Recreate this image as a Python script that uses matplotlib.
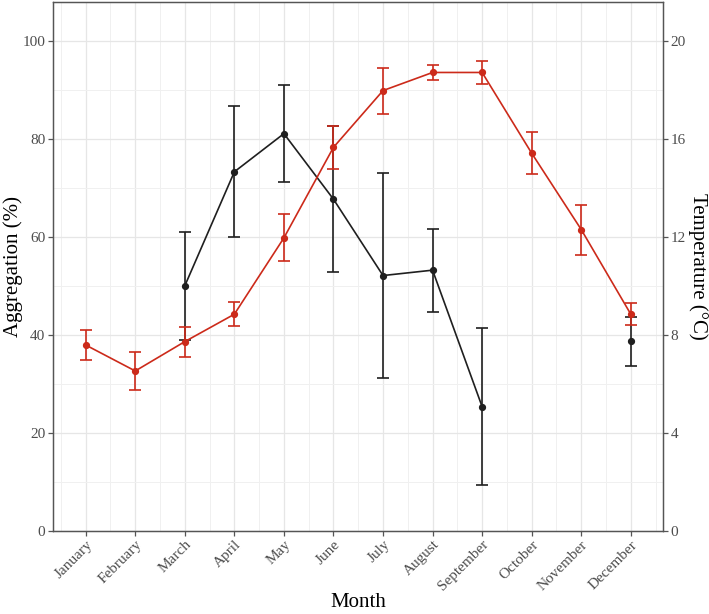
import numpy as np
import matplotlib
matplotlib.use("Agg")
import matplotlib.pyplot as plt

plt.rcParams['font.family'] = ['Liberation Serif', 'DejaVu Serif']

months = ["January", "February", "March", "April", "May", "June", "July",
          "August", "September", "October", "November", "December"]
aggregation = [np.nan, np.nan, 50.0, 73.3, 81.1, 67.7, 52.1, 53.2, 25.3, np.nan, np.nan, 38.7]
aggregation_se = [np.nan, np.nan, 11.0, 13.4, 9.9, 14.9, 21.0, 8.5, 16.0, np.nan, np.nan, 5.0]
temperature = [7.58, 6.52, 7.72, 8.84, 11.96, 15.66, 17.98, 18.72, 18.72, 15.42, 12.30, 8.84]
temperature_se = [0.61, 0.77, 0.61, 0.49, 0.96, 0.87, 0.94, 0.32, 0.46, 0.85, 1.02, 0.46]

x = np.arange(1, len(months) + 1)
red = '#cc2a1a'
blk = '#1f1f1f'

W, H = 709, 614
L, R, B, T = 53, 663, 530.5, 2
fig = plt.figure(figsize=(W / 100, H / 100), dpi=100)
ax = fig.add_axes([L / W, (H - B) / H, (R - L) / W, (B - T) / H])
ax.set_xlim(0.34, 12.65)
ax.set_ylim(0, 108)

ax.errorbar(x, aggregation, yerr=aggregation_se, color=blk, lw=1.2, marker='o', ms=4.2,
            capsize=4.3, capthick=1.2, elinewidth=1.2, zorder=3)

ax2 = ax.twinx()
ax2.set_ylim(0, 108 / 5)
ax2.errorbar(x, temperature, yerr=temperature_se, color=red, lw=1.2, marker='o', ms=4.2,
             capsize=4.3, capthick=1.2, elinewidth=1.2, zorder=3)

ax.set_yticks(np.arange(0, 101, 20))
ax.set_yticks(np.arange(10, 101, 20), minor=True)
ax.set_xticks(x)
ax.set_xticks(np.concatenate([[0.5], x + 0.5]), minor=True)
ax.set_xticklabels(months, rotation=45, ha='right', va='top', rotation_mode='anchor')
ax2.set_yticks(np.arange(0, 21, 4))

ax.grid(True, which='major', color='#e6e6e6', lw=0.9, zorder=0)
ax.grid(True, which='minor', color='#f0f0f0', lw=0.7, zorder=0)
ax.set_axisbelow(True)

for a in (ax, ax2):
    for s in a.spines.values():
        s.set_color('#555555')
        s.set_linewidth(0.9)
    a.tick_params(axis='both', which='major', direction='out', length=3.5, width=0.9,
                  color='#555555', labelcolor='#4d4d4d', labelsize=11, pad=2)
    a.tick_params(axis='both', which='minor', length=0)

ax.set_xlabel('Month', fontsize=15, color='black', va='top')
ax.xaxis.set_label_coords(0.5, -(593 - B) / (B - T))
ax.set_ylabel('Aggregation (%)', fontsize=15, color='black')
ax.yaxis.set_label_coords(-(L - 23) / (R - L), 0.5)
ax2.set_ylabel('Temperature (°C)', fontsize=15, color='black', rotation=270, va='bottom')
ax2.yaxis.set_label_coords((688 - L) / (R - L), 0.5)
ax2.yaxis.label.set_va('bottom')

fig.savefig('out.png', dpi=100)
